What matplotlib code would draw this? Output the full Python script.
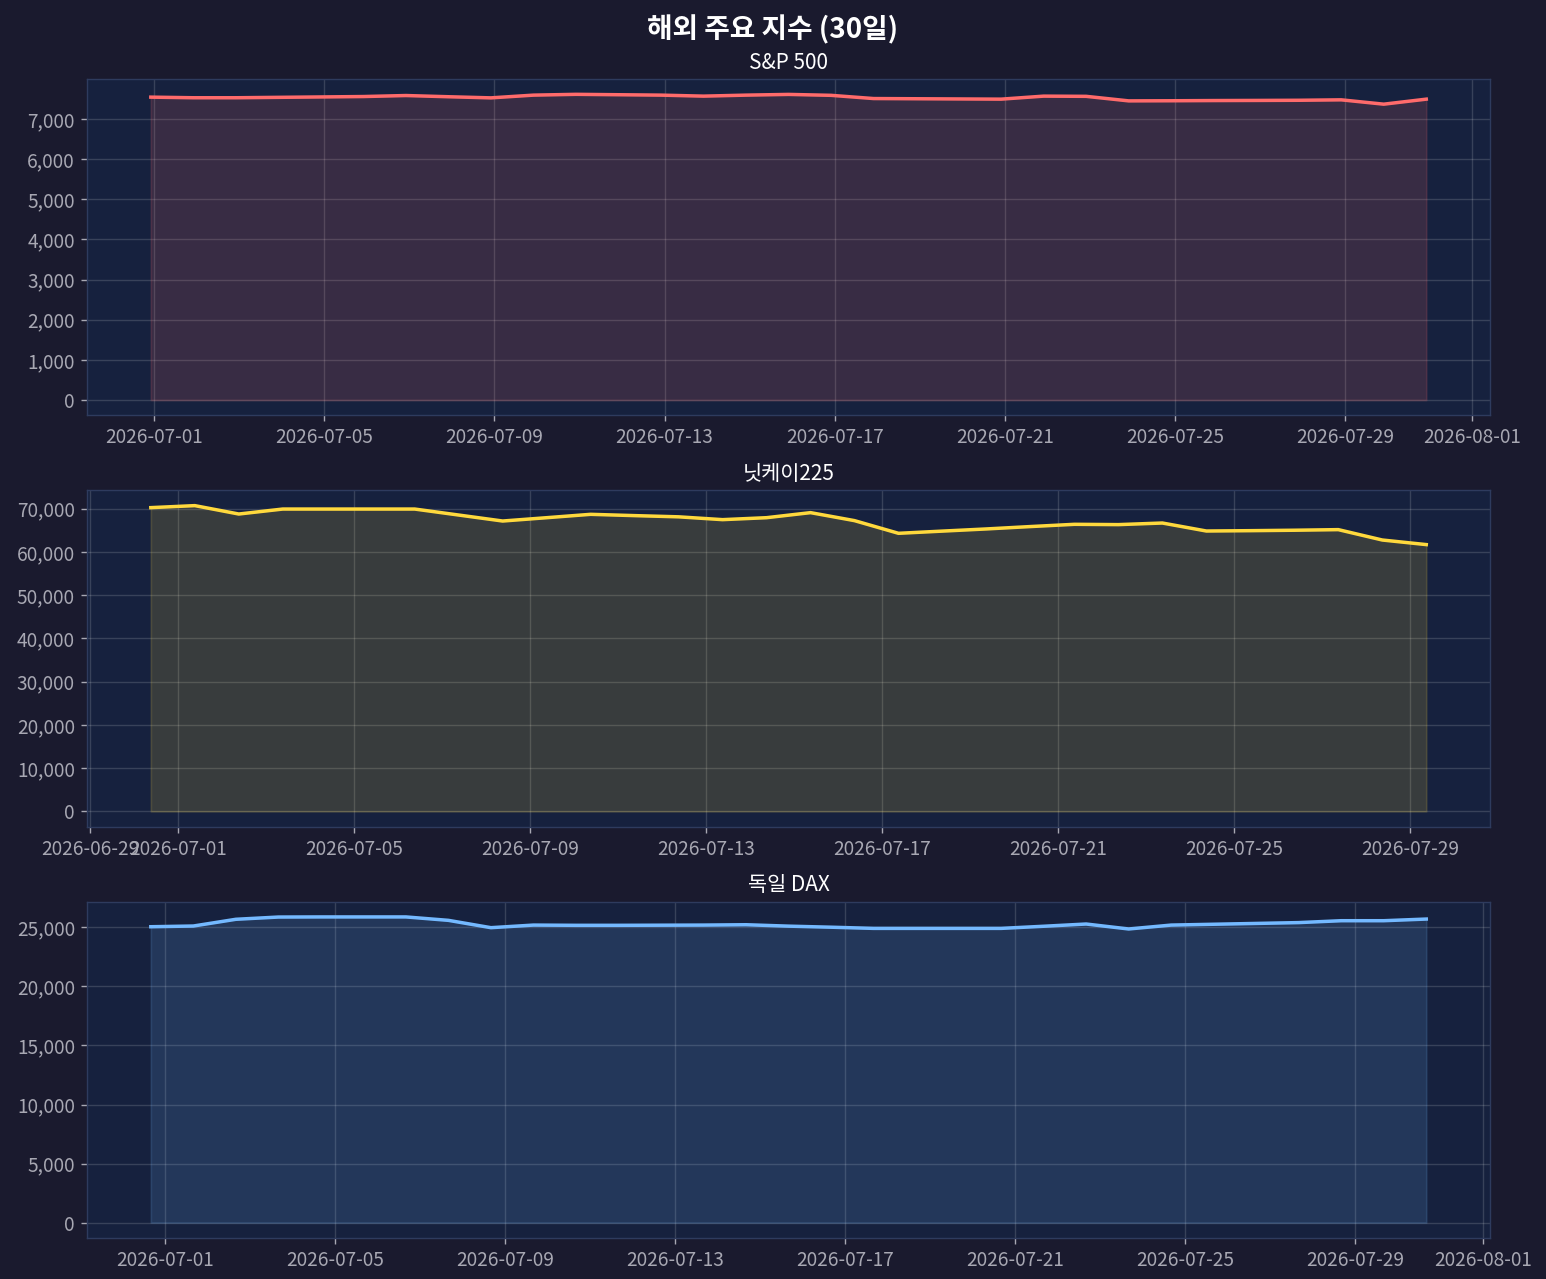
import matplotlib
matplotlib.use("Agg")
import matplotlib.pyplot as plt
import matplotlib.ticker as mticker
import pandas as pd

plt.rcParams['font.family'] = ['Noto Sans CJK KR', 'DejaVu Sans']

# ---- data ----
sp_start = "2026-06-30 22:00"
sp_values = [7540, 7525, 7525, 7535, 7545, 7555, 7580, 7550, 7522, 7590,
             7610, 7600, 7590, 7565, 7590, 7608, 7585, 7505, 7500, 7495,
             7490, 7565, 7560, 7447, 7450, 7455, 7458, 7462, 7473, 7365, 7490]

nk_start = "2026-06-30 09:00"
nk_values = [70225, 70690, 68750, 69900, 69900, 69900, 69900, 68515, 67130, 67900,
             68680, 68380, 68100, 67450, 67900, 69070, 67220, 64290, 64800, 65300,
             65850, 66370, 66300, 66670, 64820, 64900, 65000, 65140, 62740, 61680]

dax_start = "2026-06-30 16:00"
dax_values = [25050, 25110, 25680, 25870, 25880, 25880, 25880, 25590, 24970, 25190,
              25170, 25170, 25180, 25190, 25220, 25100, 25010, 24910, 24910, 24910,
              24910, 25090, 25280, 24860, 25190, 25260, 25330, 25400, 25560, 25560, 25700]

titles = ["S&P 500", "닛케이225", "독일 DAX"]
colors = ["#ff6b6b", "#ffd93d", "#74b9ff"]
ytick_steps = [1000, 10000, 5000]
suptitle = "해외 주요 지수 (30일)"

series = [
    (pd.date_range(sp_start, periods=len(sp_values), freq="D"), sp_values),
    (pd.date_range(nk_start, periods=len(nk_values), freq="D"), nk_values),
    (pd.date_range(dax_start, periods=len(dax_values), freq="D"), dax_values),
]

fig_bg = "#1a1a2e"
ax_bg = "#16213e"

fig, axes = plt.subplots(3, 1, figsize=(12.368, 10.232), dpi=125)
fig.patch.set_facecolor(fig_bg)
fig.subplots_adjust(left=0.0563, right=0.9638, top=0.9382, bottom=0.0321, hspace=0.223)

for ax, (x, y), title, c, step in zip(axes, series, titles, colors, ytick_steps):
    ax.set_facecolor(ax_bg)
    ax.plot(x, y, color=c, linewidth=2)
    ax.fill_between(x, y, 0, color=c, alpha=0.15)
    ax.set_title(title, color="white", fontsize=12, pad=6)
    ax.grid(True, color="white", alpha=0.15, linewidth=0.8)
    ax.set_axisbelow(True)
    for s in ax.spines.values():
        s.set_color("#2e3b5e")
    ax.tick_params(colors="#a8a8b3", labelsize=11)
    ax.yaxis.set_major_locator(mticker.MultipleLocator(step))
    ax.yaxis.set_major_formatter(mticker.FuncFormatter(lambda v, p: f"{v:,.0f}"))

fig.suptitle(suptitle, color="white", fontsize=16, fontweight="bold", y=0.988)

fig.savefig("out.png", dpi=125, facecolor=fig_bg)
